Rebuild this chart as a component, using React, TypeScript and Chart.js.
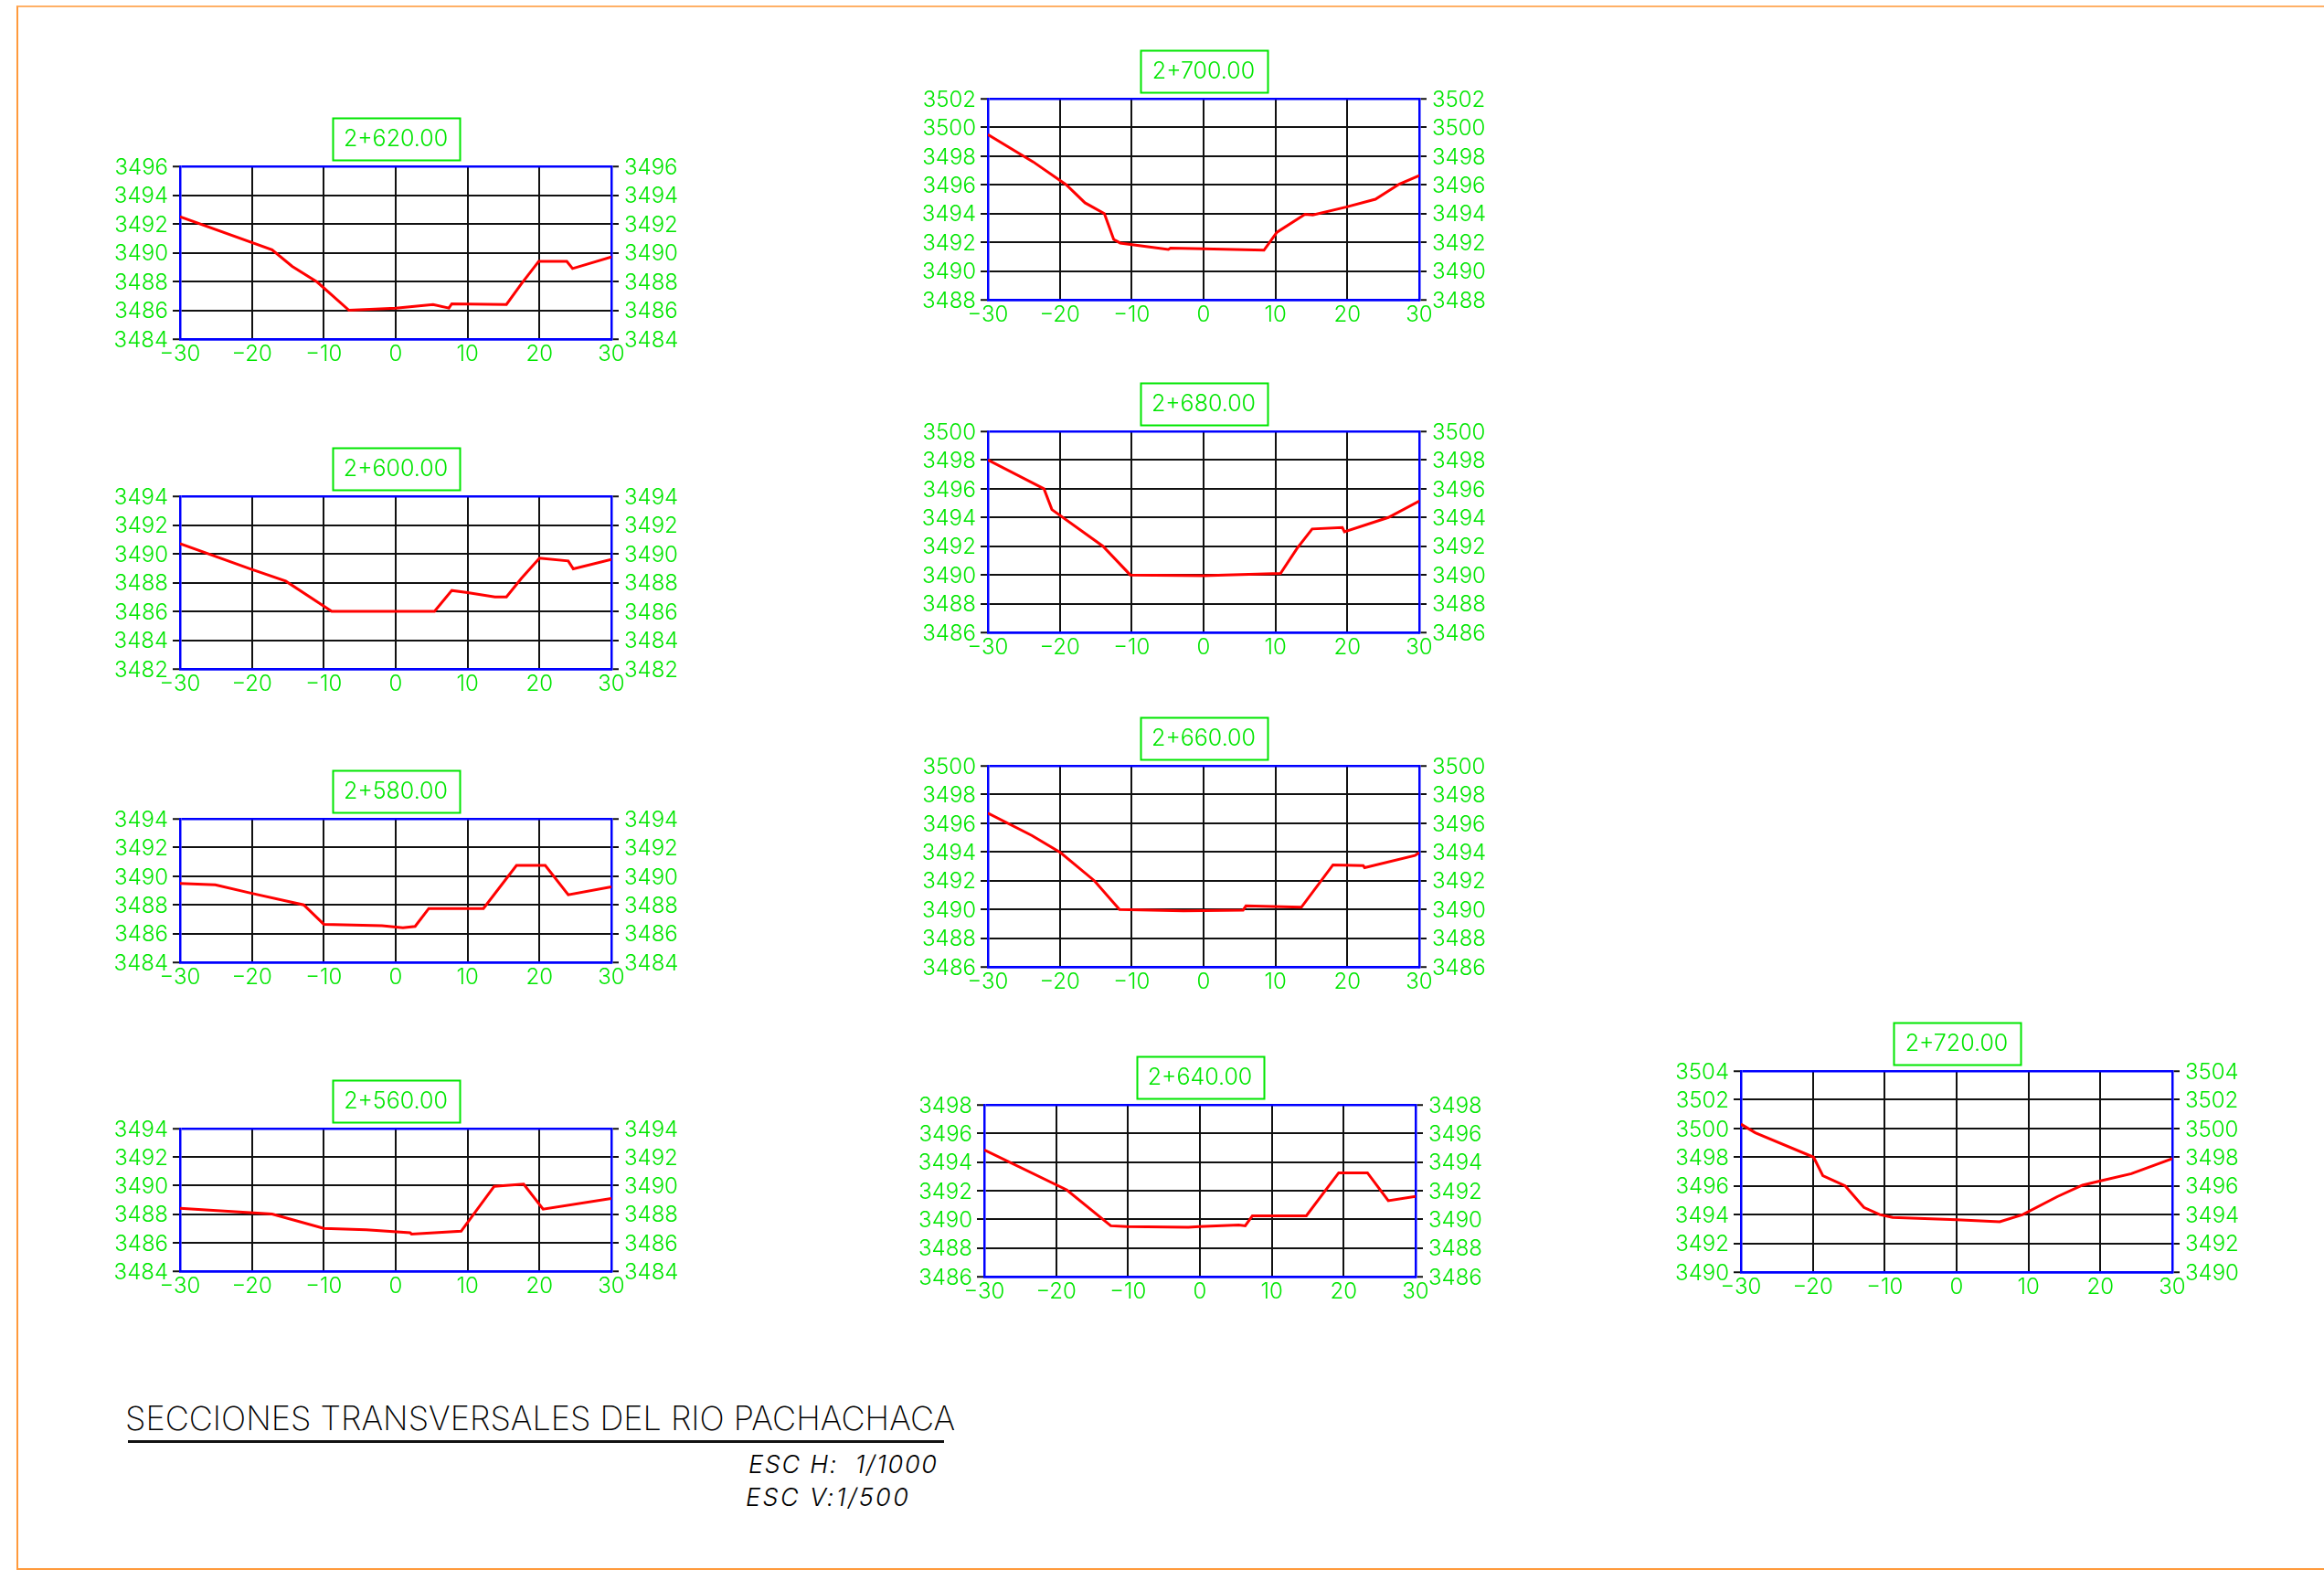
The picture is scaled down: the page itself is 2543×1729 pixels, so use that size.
import React, { useEffect, useRef } from "react";
import { Chart, registerables } from "chart.js";

Chart.register(...registerables);

// ---- Data ----
const xTicks = [-30, -20, -10, 0, 10, 20, 30];

const st2620x = [-30, -17.2, -14.4, -10.9, -6.5, 0, 5.2, 7.4, 7.8, 15.4, 17.5, 19.9, 23.8, 24.6, 30];
const st2620y = [3492.5, 3490.2, 3489.05, 3487.95, 3486.0, 3486.15, 3486.4, 3486.15, 3486.45, 3486.4, 3487.85, 3489.4, 3489.4, 3488.9, 3489.7];

const st2600x = [-30, -20.2, -15.3, -8.9, 5.4, 7.8, 10, 13.8, 15.4, 17.5, 20, 24, 24.7, 30];
const st2600y = [3490.7, 3488.95, 3488.1, 3486, 3486, 3487.45, 3487.3, 3487, 3487, 3488.3, 3489.7, 3489.5, 3488.95, 3489.6];

const st2580x = [-30, -25.1, -20, -12.8, -10, -1.9, 1, 2.7, 4.6, 12.2, 16.8, 20.8, 24, 30];
const st2580y = [3489.5, 3489.4, 3488.8, 3488, 3486.65, 3486.55, 3486.4, 3486.5, 3487.75, 3487.75, 3490.75, 3490.75, 3488.7, 3489.25];

const st2560x = [-30, -17.2, -10, -4.1, 2, 2.2, 9.1, 13.7, 17.8, 20.5, 30];
const st2560y = [3488.4, 3488, 3487, 3486.9, 3486.7, 3486.6, 3486.8, 3489.95, 3490.1, 3488.35, 3489.1];

const st2700x = [-30, -23.7, -19.1, -16.5, -13.8, -12.5, -11.6, -4.9, -4.6, 0, 8.4, 10.2, 14.1, 15.2, 19.8, 23.9, 27.2, 30];
const st2700y = [3499.5, 3497.6, 3496, 3494.75, 3494, 3492.2, 3491.95, 3491.5, 3491.6, 3491.55, 3491.45, 3492.7, 3493.95, 3493.9, 3494.45, 3495, 3496.05, 3496.65];

const st2680x = [-30, -22.2, -21.1, -14, -10.2, 0, 3, 10.7, 13, 15.1, 19.3, 19.6, 25.7, 30];
const st2680y = [3498, 3496, 3494.55, 3492, 3490, 3489.95, 3490, 3490.1, 3491.85, 3493.2, 3493.3, 3493, 3494, 3495.15];

const st2660x = [-30, -23.9, -19.9, -15.2, -11.7, -2.8, 5.5, 5.9, 13.6, 18, 22.2, 22.4, 29.4, 30];
const st2660y = [3496.7, 3495.15, 3493.95, 3492, 3490, 3489.9, 3489.95, 3490.25, 3490.15, 3493.1, 3493.05, 3492.9, 3493.75, 3493.95];

const st2640x = [-30, -18.5, -12.4, -10.2, -1.6, -0.1, 5.4, 6.3, 7.3, 14.8, 19.3, 23.3, 26.2, 30];
const st2640y = [3494.85, 3492.05, 3489.55, 3489.5, 3489.45, 3489.5, 3489.6, 3489.55, 3490.25, 3490.25, 3493.25, 3493.25, 3491.3, 3491.6];

const st2720x = [-30, -28, -19.9, -18.6, -15.5, -12.9, -10.7, -8.9, 0, 6, 9.2, 14, 17.5, 20, 24.3, 30];
const st2720y = [3500.3, 3499.7, 3498, 3496.7, 3496, 3494.5, 3494, 3493.8, 3493.65, 3493.5, 3494, 3495.25, 3496.05, 3496.35, 3496.85, 3497.9];

const stations = ["2+620.00", "2+600.00", "2+580.00", "2+560.00", "2+700.00", "2+680.00", "2+660.00", "2+640.00", "2+720.00"];
const xValues = [st2620x, st2600x, st2580x, st2560x, st2700x, st2680x, st2660x, st2640x, st2720x];
const yValues = [st2620y, st2600y, st2580y, st2560y, st2700y, st2680y, st2660y, st2640y, st2720y];
const yMins = [3484, 3482, 3484, 3484, 3488, 3486, 3486, 3486, 3490];
const yMaxs = [3496, 3494, 3494, 3494, 3502, 3500, 3500, 3498, 3504];

const drawingTitle = "SECCIONES TRANSVERSALES DEL RIO PACHACHACA";
const scaleH = "ESC H:  1/1000";
const scaleV = "ESC V:1/500";

// ---- Layout and style (pixels on the page) ----
const panelLefts = [197, 197, 197, 197, 1081, 1081, 1081, 1077, 1905];
const panelTops = [182, 543, 896, 1235, 108, 472, 838, 1209, 1172];
const panelBottoms = [371, 732, 1053, 1391, 328, 692, 1058, 1397, 1392];
const plotWidth = 472;
const gutter = 100;
const headRoom = 90;
const footRoom = 60;
const GREEN = "#00e600";
const BLUE = "#0000ff";
const RED = "#ff0000";
const FONT = "Inter, 'DejaVu Sans', sans-serif";

const labelBox = {
  id: "labelBox",
  beforeDatasetsDraw(chart: any) {
    const { ctx, chartArea } = chart;
    const cx = (chartArea.left + chartArea.right) / 2;
    ctx.save();
    ctx.strokeStyle = GREEN;
    ctx.lineWidth = 2;
    ctx.strokeRect(Math.round(cx - 69.5) + 0.5, chartArea.top - 53 + 0.5, 139, 46);
    ctx.restore();
  },
};

const Panel: React.FC<{ index: number }> = ({ index }) => {
  const ref = useRef<HTMLCanvasElement | null>(null);
  const min = yMins[index];
  const max = yMaxs[index];
  const plotHeight = panelBottoms[index] - panelTops[index];
  useEffect(() => {
    const yAxis = (position: "left" | "right", padding: number, onArea: boolean) => ({
      type: "linear",
      position,
      min,
      max,
      afterFit: (s: any) => {
        s.width = gutter;
      },
      border: { display: true, color: BLUE, width: 2.5 },
      grid: {
        drawOnChartArea: onArea,
        drawTicks: true,
        tickLength: 8,
        tickColor: "#111111",
        tickWidth: 2,
        color: (c: any) => (c.tick && (c.tick.value === min || c.tick.value === max) ? BLUE : "#111111"),
        lineWidth: (c: any) => (c.tick && (c.tick.value === min || c.tick.value === max) ? 2.5 : 2),
      },
      ticks: {
        stepSize: 2,
        autoSkip: false,
        padding,
        labelOffset: 1.5,
        color: GREEN,
        font: { family: FONT, size: 24, weight: 300 },
        callback: (v: any) => String(v),
      },
    });
    const chart = new Chart(ref.current as HTMLCanvasElement, {
      type: "line",
      data: {
        datasets: [
          {
            label: stations[index],
            data: xValues[index].map((x, i) => ({ x, y: yValues[index][i] })),
            borderColor: RED,
            borderWidth: 3,
            pointRadius: 0,
            tension: 0,
            yAxisID: "y",
          },
        ],
      },
      options: {
        animation: false,
        responsive: false,
        devicePixelRatio: 1,
        layout: { padding: 0 },
        plugins: {
          legend: { display: false },
          tooltip: { enabled: false },
          title: {
            display: true,
            text: stations[index],
            color: GREEN,
            font: { family: FONT, size: 25, weight: 300, lineHeight: 1.2 },
            padding: { top: 45, bottom: 15 },
          },
        },
        scales: {
          x: {
            type: "linear",
            min: xTicks[0],
            max: xTicks[xTicks.length - 1],
            afterFit: (s: any) => {
              s.height = footRoom;
            },
            afterBuildTicks: (s: any) => {
              s.ticks = xTicks.map((value) => ({ value }));
            },
            border: { display: true, color: BLUE, width: 2.5 },
            grid: {
              drawTicks: false,
              color: (c: any) => (c.tick && Math.abs(c.tick.value) === 30 ? BLUE : "#111111"),
              lineWidth: 2,
            },
            ticks: {
              autoSkip: false,
              maxRotation: 0,
              padding: 2,
              color: GREEN,
              font: { family: FONT, size: 24, weight: 300 },
              callback: (v: any) => (v < 0 ? "\u2212" + Math.abs(v) : String(v)),
            },
          },
          y: yAxis("left", 5, true),
          y2: yAxis("right", 6, false),
        },
      } as any,
      plugins: [labelBox],
    } as any);
    return () => chart.destroy();
  }, [index]);
  return (
    <canvas
      ref={ref}
      width={gutter * 2 + plotWidth}
      height={headRoom + plotHeight + footRoom}
      style={{
        position: "absolute",
        left: panelLefts[index] - gutter,
        top: panelTops[index] - headRoom,
        width: gutter * 2 + plotWidth,
        height: headRoom + plotHeight + footRoom,
      }}
    />
  );
};

const noteStyle: React.CSSProperties = {
  position: "absolute",
  fontFamily: "Inter, sans-serif",
  fontStyle: "italic",
  fontWeight: 300,
  fontSize: 27,
  lineHeight: "30px",
  whiteSpace: "pre",
  color: "#000",
};

export default function App() {
  return (
    <div style={{ position: "absolute", left: 0, top: 0, width: 2543, height: 1729, overflow: "hidden", background: "#fff" }}>
      <div
        style={{
          position: "absolute",
          left: 18,
          top: 6,
          width: 3000,
          height: 1712,
          boxSizing: "border-box",
          borderStyle: "solid",
          borderWidth: 2,
          borderColor: "#ffb066 #ffb066 #ff9a3c #ff9a3c",
        }}
      />
      {stations.map((_, i) => (
        <Panel key={i} index={i} />
      ))}
      <div
        style={{
          position: "absolute",
          left: 137,
          top: 1531,
          fontFamily: "Inter, sans-serif",
          fontWeight: 200,
          fontSize: 36,
          lineHeight: "42px",
          whiteSpace: "pre",
          color: "#000",
        }}
      >
        {drawingTitle}
      </div>
      <div style={{ position: "absolute", left: 140, top: 1576, width: 893, height: 3, background: "#111" }} />
      <div style={{ ...noteStyle, left: 819, top: 1588, letterSpacing: 1.7 }}>{scaleH}</div>
      <div style={{ ...noteStyle, left: 816, top: 1624, letterSpacing: 2.4 }}>{scaleV}</div>
    </div>
  );
}
